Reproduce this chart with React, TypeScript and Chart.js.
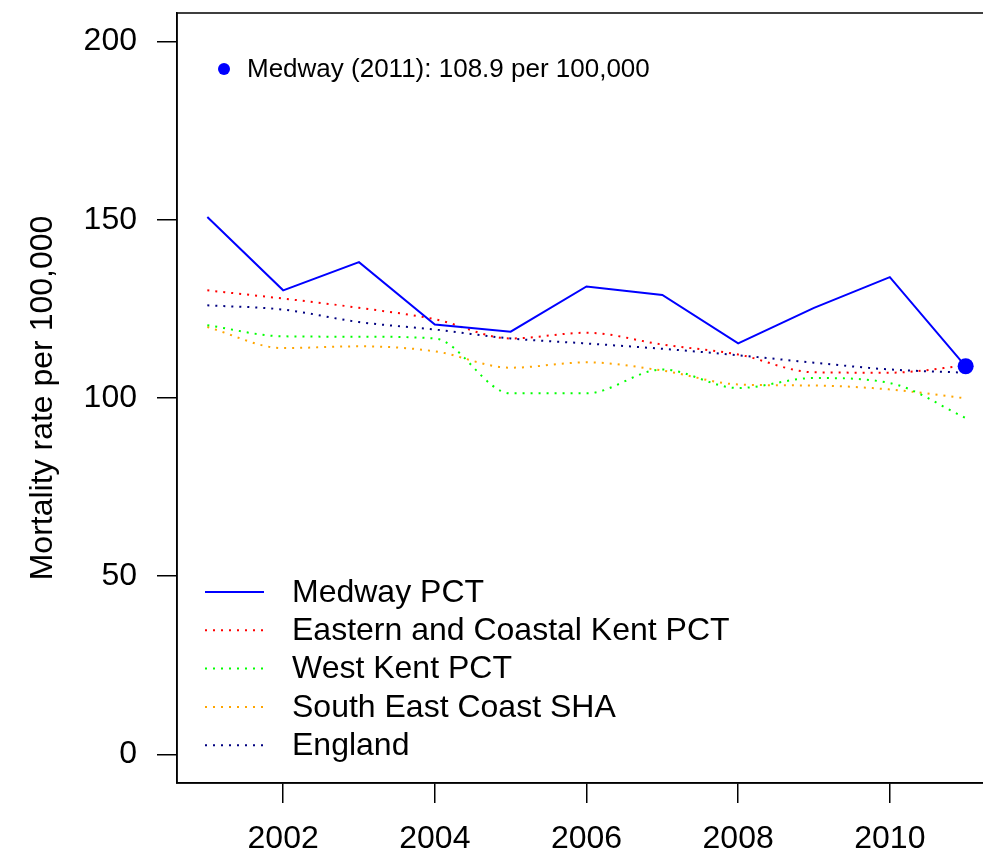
import React, { useEffect, useRef } from "react";
import { Chart, registerables } from "chart.js";
Chart.register(...registerables);

const years = [2001, 2002, 2003, 2004, 2005, 2006, 2007, 2008, 2009, 2010, 2011];
const medway = [150.8, 130.2, 138.1, 120.6, 118.6, 131.3, 128.9, 115.3, 125.3, 133.9, 108.9];
const eastKent = [130.2, 127.9, 125.3, 122.1, 116.7, 118.3, 115.0, 112.2, 107.2, 107.1, 109.1];
const westKent = [120.4, 117.3, 117.2, 116.7, 101.3, 101.3, 108.0, 102.8, 105.6, 104.2, 94.4];
const seCoast = [119.9, 114.0, 114.5, 113.1, 108.5, 110.0, 107.7, 103.8, 103.5, 102.4, 99.9];
const england = [126.0, 124.8, 121.3, 119.2, 116.7, 115.3, 113.8, 112.0, 109.9, 108.0, 107.1];
const seriesNames = ["Medway PCT", "Eastern and Coastal Kent PCT", "West Kent PCT", "South East Coast SHA", "England"];
const seriesColors = ["#0000FF", "#FF0000", "#00FF00", "#FFA500", "#000080"];
const xTicks = [2002, 2004, 2006, 2008, 2010];
const yTicks = [0, 50, 100, 150, 200];
const yTitle = "Mortality rate per 100,000";

const FONT = "'Liberation Sans', Arial, Helvetica, sans-serif";
const DOT = [2, 6];

const toPts = (vals: number[]) => vals.map((v, i) => ({ x: years[i], y: v }));

const decor = {
  id: "decor",
  afterDraw(chart: any) {
    const { ctx, chartArea: a } = chart;
    ctx.save();
    // box
    ctx.strokeStyle = "#000";
    ctx.lineWidth = 1.5;
    ctx.strokeRect(a.left, a.top, a.right - a.left, a.bottom - a.top);
    // annotation
    const lastIdx = years.length - 1;
    const ax = a.left + 47;
    const ay = a.top + 56;
    ctx.fillStyle = seriesColors[0];
    ctx.beginPath();
    ctx.arc(ax, ay, 6, 0, Math.PI * 2);
    ctx.fill();
    ctx.fillStyle = "#000";
    ctx.font = `26px ${FONT}`;
    ctx.textBaseline = "middle";
    ctx.textAlign = "left";
    ctx.fillText(`Medway (${years[lastIdx]}): ${medway[lastIdx].toFixed(1)} per 100,000`, ax + 23, ay + 1);
    // legend
    ctx.font = `32px ${FONT}`;
    const lx0 = a.left + 28;
    const lx1 = a.left + 87;
    const tx = a.left + 115;
    const y0 = 592;
    const step = 38.3;
    chart.data.datasets.forEach((ds: any, i: number) => {
      if (!ds.label) return;
      const y = y0 + i * step;
      ctx.strokeStyle = ds.borderColor;
      ctx.lineWidth = ds.borderWidth;
      ctx.setLineDash(ds.borderDash || []);
      ctx.beginPath();
      ctx.moveTo(lx0, y);
      ctx.lineTo(lx1, y);
      ctx.stroke();
      ctx.setLineDash([]);
      ctx.fillStyle = "#000";
      ctx.fillText(ds.label, tx, y + 1);
    });
    ctx.restore();
  },
};

export default function App() {
  const ref = useRef<HTMLCanvasElement>(null);
  useEffect(() => {
    if (!ref.current) return;
    const series = [medway, eastKent, westKent, seCoast, england];
    const datasets = series.map((vals, i) => ({
      label: seriesNames[i],
      data: toPts(vals),
      borderColor: seriesColors[i],
      backgroundColor: seriesColors[i],
      borderWidth: 2,
      borderDash: i === 0 ? [] : DOT,
      borderCapStyle: "butt",
      cubicInterpolationMode: i === 0 ? "default" : "monotone",
      tension: 0,
      pointRadius: i === 0 ? (c: any) => (c.dataIndex === years.length - 1 ? 8 : 0) : 0,
      pointBorderWidth: 0,
      pointBackgroundColor: seriesColors[i],
      fill: false,
    }));
    const chart = new Chart(ref.current, {
      type: "line",
      data: { datasets: datasets as any },
      options: {
        animation: false,
        responsive: false,
        devicePixelRatio: 1,
        events: [],
        layout: { autoPadding: false, padding: { top: 13, left: 0, right: 0, bottom: 0 } },
        plugins: { legend: { display: false }, tooltip: { enabled: false } },
        scales: {
          x: {
            type: "linear",
            min: 2000.6,
            max: 2011.4,
            afterBuildTicks: (s: any) => { s.ticks = xTicks.map((v) => ({ value: v })); },
            afterFit: (s: any) => { s.height = 76; s.paddingLeft = 0; s.paddingRight = 0; },
            grid: { drawOnChartArea: false, drawTicks: true, tickLength: 20, color: "#000", lineWidth: 1.5 },
            border: { display: true, color: "#000", width: 1.5 },
            ticks: { color: "#000", font: { family: FONT, size: 32 }, padding: 17, maxRotation: 0, autoSkip: false, callback: (v: any) => String(v) },
          },
          y: {
            type: "linear",
            min: -8,
            max: 208,
            afterBuildTicks: (s: any) => { s.ticks = yTicks.map((v) => ({ value: v })); },
            afterFit: (s: any) => { s.width = 177; s.paddingTop = 0; s.paddingBottom = 0; },
            grid: { drawOnChartArea: false, drawTicks: true, tickLength: 20, color: "#000", lineWidth: 1.5 },
            border: { display: true, color: "#000", width: 1.5 },
            ticks: { color: "#000", font: { family: FONT, size: 32 }, padding: 20, autoSkip: false, callback: (v: any) => String(v) },
            title: { display: true, text: yTitle, color: "#000", font: { family: FONT, size: 32 }, padding: { top: 24, bottom: 0 } },
          },
        },
      },
      plugins: [decor],
    });
    return () => chart.destroy();
  }, []);
  return (
    <div style={{ position: "fixed", left: 0, top: 0, width: 983, height: 859, overflow: "hidden", background: "#fff" }}>
      <canvas ref={ref} width={996} height={859} style={{ width: 996, height: 859, display: "block" }} />
    </div>
  );
}
